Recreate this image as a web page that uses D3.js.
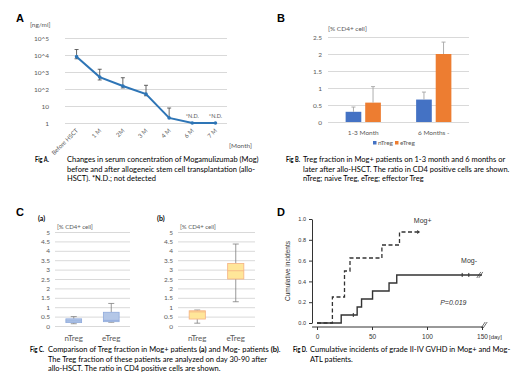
<!DOCTYPE html>
<html>
<head>
<meta charset="utf-8">
<script src="https://cdn.jsdelivr.net/npm/d3@7"></script>
<style>
  body { margin: 0; background: #fff; }
  svg { display: block; }
  text { font-family: Lato, "Open Sans", sans-serif; }
</style>
</head>
<body>
<div id="chart"></div>
<script>
// ---- Panel A: serum Mogamulizumab ----
const monthLabels = ["Before HSCT", "1 M", "2M", "3 M", "4 M", "6 M", "7 M"];
const mogConc = [8000, 500, 150, 50, 2, 1, 1];
const mogHigh = [21000, 1450, 460, 165, 7.6, null, null];
const mogLow = [6000, 340, 115, 40, 2, null, null];
const notDetected = [false, false, false, false, false, true, true];
const logTicks = [1, 10, 100, 1000, 10000, 100000];
const logTickLabels = ["1", "10", "10^2", "10^3", "10^4", "10^5"];

// ---- Panel B: Treg fraction ----
const periods = ["1-3 Month", "6 Months -"];
const tregTypes = ["nTreg", "eTreg"];
const nTregMean = [0.3, 0.66];
const eTregMean = [0.57, 2.0];
const nTregErr = [0.14, 0.22];
const eTregErr = [0.47, 0.35];

// ---- Panel C: box plots [min, q1, median, q3, max] ----
const mogPosNTreg = [0.12, 0.18, 0.27, 0.38, 0.5];
const mogPosETreg = [0.2, 0.23, 0.3, 0.73, 1.2];
const mogNegNTreg = [0.15, 0.37, 0.75, 0.81, 0.85];
const mogNegETreg = [1.29, 2.5, 2.94, 3.33, 4.36];

// ---- Panel D: cumulative incidence of GVHD ----
const mogPosDays = [0, 14, 25, 30, 59, 75, 91];
const mogPosInc = [0, 0.25, 0.5, 0.625, 0.75, 0.875, 0.875];
const mogNegDays = [0, 22, 36.5, 40.5, 50.5, 65.5, 72.5, 150];
const mogNegInc = [0, 0.077, 0.154, 0.231, 0.308, 0.385, 0.462, 0.462];
const mogNegCensorDays = [33, 132, 138];
const mogNegCensorInc = [0.077, 0.462, 0.462];

const svg = d3.select("#chart").append("svg")
    .attr("width", 520)
    .attr("height", 390);

svg.append("rect").attr("width", 520).attr("height", 390).attr("fill", "#fff");

const tickGrey = "#595959";
const gridGrey = "#d9d9d9";

// helper: caption block
function caption(x, xText, y, label, lines) {
    svg.append("text")
        .attr("x", x).attr("y", y)
        .attr("textLength", 14).attr("lengthAdjust", "spacingAndGlyphs")
        .style("font-size", "7px").style("font-weight", "bold")
        .text(label);
    lines.forEach((ln, i) => {
        const t = svg.append("text")
            .attr("x", xText).attr("y", y + i * 9.5)
            .style("font-size", "7.5px");
        ln.forEach(part => {
            t.append("tspan")
                .style("font-weight", part.b ? "bold" : "normal")
                .text(part.t);
        });
    });
}

function panelLetter(x, y, s) {
    svg.append("text").attr("x", x).attr("y", y)
        .style("font-family", "'Liberation Sans', Arial, sans-serif")
        .style("font-size", "11px").style("font-weight", "bold")
        .text(s);
}

// ================= Panel A =================
{
    const x = d3.scaleBand().domain(monthLabels).range([65, 227]);
    const y = d3.scaleLog().domain([1, 1e5]).range([123, 38]);
    const cx = i => x(monthLabels[i]) + x.bandwidth() / 2;

    panelLetter(16, 22, "A");
    svg.append("text").attr("x", 30).attr("y", 27)
        .style("font-size", "6.5px").attr("fill", tickGrey).text("[ng/ml]");

    const gy = svg.append("g").attr("transform", "translate(65,0)")
        .call(d3.axisLeft(y).tickValues(logTicks).tickSize(-(227 - 65)).tickPadding(16)
            .tickFormat((d, i) => logTickLabels[i]));
    gy.select(".domain").remove();
    gy.selectAll(".tick line").attr("stroke", gridGrey);
    gy.selectAll(".tick text").attr("fill", tickGrey).style("font-size", "6.5px")
        .style("font-family", "Lato, sans-serif");

    const gx = svg.append("g").attr("transform", "translate(0,123)")
        .call(d3.axisBottom(x).tickSize(0));
    gx.select(".domain").remove();
    gx.selectAll(".tick text")
        .attr("y", 0).attr("dy", 0)
        .attr("text-anchor", "end")
        .attr("transform", "translate(2,8) rotate(-45)")
        .attr("fill", tickGrey).style("font-size", "6px")
        .style("font-family", "Lato, sans-serif");

    svg.append("text").attr("x", 229).attr("y", 148)
        .style("font-size", "6.5px").attr("fill", tickGrey).text("[Month]");

    // error bars
    mogConc.forEach((v, i) => {
        if (mogHigh[i] == null) return;
        const g = svg.append("g").attr("stroke", "#404040").attr("stroke-width", 0.8);
        g.append("line").attr("x1", cx(i)).attr("x2", cx(i)).attr("y1", y(mogHigh[i])).attr("y2", y(mogLow[i]));
        g.append("line").attr("x1", cx(i) - 2).attr("x2", cx(i) + 2).attr("y1", y(mogHigh[i])).attr("y2", y(mogHigh[i]));
        if (mogLow[i] !== v)
            g.append("line").attr("x1", cx(i) - 2).attr("x2", cx(i) + 2).attr("y1", y(mogLow[i])).attr("y2", y(mogLow[i]));
    });

    svg.append("path")
        .datum(mogConc)
        .attr("fill", "none").attr("stroke", "#2E75B6").attr("stroke-width", 2)
        .attr("d", d3.line().x((d, i) => cx(i)).y(d => y(d)));

    svg.selectAll(".ptA").data(mogConc).enter().append("circle")
        .attr("cx", (d, i) => cx(i)).attr("cy", d => y(d)).attr("r", 1.8)
        .attr("fill", "#2E75B6");

    mogConc.forEach((v, i) => {
        if (!notDetected[i]) return;
        svg.append("text").attr("x", cx(i)).attr("y", y(v) - 5)
            .attr("text-anchor", "middle").attr("fill", tickGrey)
            .style("font-size", "5.5px").text("*N.D.");
    });

    caption(35, 67, 162, "Fig A.", [
        [{ t: "Changes in serum concentration of Mogamulizumab (Mog)" }],
        [{ t: "before and after allogeneic stem cell transplantation (allo-" }],
        [{ t: "HSCT).    *N.D.; not detected" }]
    ]);
}

// ================= Panel B =================
{
    const y = d3.scaleLinear().domain([0, 2.5]).range([122, 37]);
    const x0 = d3.scaleBand().domain(periods).range([328, 469]);
    const x1 = d3.scaleBand().domain(tregTypes).range([0, x0.bandwidth()])
        .paddingInner(0.2).paddingOuter(0.9);
    const color = d3.scaleOrdinal().domain(tregTypes).range(["#4472C4", "#ED7D31"]);

    panelLetter(277, 22, "B");
    svg.append("text").attr("x", 328).attr("y", 31)
        .style("font-size", "6.5px").attr("fill", tickGrey).text("[% CD4+ cell]");

    const gy = svg.append("g").attr("transform", "translate(328,0)")
        .call(d3.axisLeft(y).tickValues(d3.range(0, 2.51, 0.5)).tickSize(-(469 - 328)).tickPadding(6)
            .tickFormat(d3.format("~g")));
    gy.select(".domain").remove();
    gy.selectAll(".tick line").attr("stroke", gridGrey);
    gy.selectAll(".tick text").attr("fill", tickGrey).style("font-size", "6.5px")
        .style("font-family", "Lato, sans-serif");

    const gx = svg.append("g").attr("transform", "translate(0,122)")
        .call(d3.axisBottom(x0).tickSize(0).tickPadding(8));
    gx.select(".domain").remove();
    gx.selectAll(".tick text").attr("fill", tickGrey).style("font-size", "6.5px")
        .style("font-family", "Lato, sans-serif");

    const rows = periods.map((p, i) => ({
        period: p,
        vals: [
            { key: "nTreg", v: nTregMean[i], e: nTregErr[i] },
            { key: "eTreg", v: eTregMean[i], e: eTregErr[i] }
        ]
    }));

    const grp = svg.selectAll(".grpB").data(rows).enter().append("g")
        .attr("transform", d => `translate(${x0(d.period)},0)`);

    grp.selectAll("rect").data(d => d.vals).enter().append("rect")
        .attr("x", d => x1(d.key)).attr("width", x1.bandwidth())
        .attr("y", d => y(d.v)).attr("height", d => y(0) - y(d.v))
        .attr("fill", d => color(d.key));

    grp.selectAll(".eb").data(d => d.vals).enter().append("path")
        .attr("fill", "none").attr("stroke", "#a5a5a5").attr("stroke-width", 0.9)
        .attr("d", d => {
            const c = x1(d.key) + x1.bandwidth() / 2;
            return `M${c},${y(d.v)}V${y(d.v + d.e)}M${c - 2},${y(d.v + d.e)}H${c + 2}`;
        });

    // legend
    const leg = svg.append("g").attr("transform", "translate(373,145)");
    tregTypes.forEach((k, i) => {
        leg.append("rect").attr("x", i * 22).attr("y", -4).attr("width", 3.5).attr("height", 3.5)
            .attr("fill", color(k));
        leg.append("text").attr("x", i * 22 + 5).attr("y", 0)
            .style("font-size", "6.5px").attr("fill", tickGrey).text(k);
    });

    caption(286, 303, 162, "Fig B.", [
        [{ t: "Treg fraction in Mog+ patients on 1-3 month and 6 months or" }],
        [{ t: "later after allo-HSCT. The ratio in CD4 positive  cells are shown." }],
        [{ t: "nTreg; naive Treg, eTreg; effector Treg" }]
    ]);
}

// ================= Panel C =================
{
    const y = d3.scaleLinear().domain([0, 5]).range([326, 232]);
    panelLetter(16, 216, "C");

    function boxPanel(left, right, tag, tagX, stats, fill, stroke, medStroke) {
        const x = d3.scaleBand().domain(tregTypes).range([left, right]);
        const bw = x.bandwidth() * 0.42;

        svg.append("text").attr("x", tagX).attr("y", 221)
            .style("font-size", "7px").style("font-weight", "bold").text(tag);
        svg.append("text").attr("x", left + 2).attr("y", 229)
            .style("font-size", "6px").attr("fill", tickGrey).text("[% CD4+ cell]");

        const gy = svg.append("g").attr("transform", `translate(${left},0)`)
            .call(d3.axisLeft(y).tickValues(d3.range(0, 5.01, 0.5)).tickSize(-(right - left)).tickPadding(5)
                .tickFormat(d3.format("~g")));
        gy.select(".domain").remove();
        gy.selectAll(".tick line").attr("stroke", gridGrey);
        gy.selectAll(".tick text").attr("fill", tickGrey).style("font-size", "6.5px")
            .style("font-family", "Lato, sans-serif");

        const gx = svg.append("g").attr("transform", "translate(0,326)")
            .call(d3.axisBottom(x).tickSize(0).tickPadding(9));
        gx.select(".domain").remove();
        gx.selectAll(".tick text").attr("fill", tickGrey).style("font-size", "8px")
            .style("font-family", "Lato, sans-serif");

        tregTypes.forEach((k, i) => {
            const s = stats[i];
            const c = x(k) + x.bandwidth() / 2;
            const g = svg.append("g");
            g.append("path").attr("fill", "none").attr("stroke", "#7f7f7f").attr("stroke-width", 0.8)
                .attr("d", `M${c},${y(s[4])}V${y(s[3])}M${c},${y(s[1])}V${y(s[0])}` +
                    `M${c - 3},${y(s[4])}H${c + 3}M${c - 3},${y(s[0])}H${c + 3}`);
            g.append("rect").attr("x", c - bw / 2).attr("width", bw)
                .attr("y", y(s[3])).attr("height", y(s[1]) - y(s[3]))
                .attr("fill", fill).attr("stroke", stroke).attr("stroke-width", 0.8);
            g.append("line").attr("x1", c - bw / 2).attr("x2", c + bw / 2)
                .attr("y1", y(s[2])).attr("y2", y(s[2]))
                .attr("stroke", medStroke).attr("stroke-width", 0.8);
        });
    }

    boxPanel(55, 130, "(a)", 38, [mogPosNTreg, mogPosETreg], "#b4c7e7", "#8faadc", "#8faadc");
    boxPanel(178, 255, "(b)", 157, [mogNegNTreg, mogNegETreg], "#ffe699", "#f4b183", "#f4b183");

    caption(30, 48, 352, "Fig C.", [
        [{ t: "Comparison of Treg fraction in Mog+ patients " }, { t: "(a)", b: true },
            { t: " and Mog- patients " }, { t: "(b)", b: true }, { t: "." }],
        [{ t: "The Treg fraction of these patients  are analyzed on day 30-90 after" }],
        [{ t: "allo-HSCT. The ratio in CD4 positive  cells are shown." }]
    ]);
}

// ================= Panel D =================
{
    const x = d3.scaleLinear().domain([0, 150]).range([317, 482]);
    const y = d3.scaleLinear().domain([0, 1]).range([323, 219]);
    const arial = "'Liberation Sans', Arial, sans-serif";

    panelLetter(277, 216, "D");

    const gy = svg.append("g").attr("transform", "translate(312,0)")
        .call(d3.axisLeft(y).ticks(5).tickFormat(d3.format(".1f")).tickSize(3).tickSizeOuter(0).tickPadding(3));
    gy.selectAll("path, line").attr("stroke", "#333");
    gy.selectAll(".tick text").attr("fill", "#333").style("font-size", "5.5px").style("font-family", arial);

    const gx = svg.append("g").attr("transform", "translate(0,327)")
        .call(d3.axisBottom(x).tickValues([0, 50, 100, 150]).tickSize(3).tickSizeOuter(0).tickPadding(4));
    gx.select(".domain").attr("d", `M${x(-4.5)},0H${x(151)}`);
    gx.selectAll("path, line").attr("stroke", "#333");
    gx.selectAll(".tick text").attr("fill", "#333").style("font-size", "6.5px").style("font-family", arial);

    svg.append("text").attr("x", 489).attr("y", 339)
        .style("font-size", "6px").style("font-family", arial).attr("fill", "#333").text("[day]");

    svg.append("text")
        .attr("transform", `translate(290,${(y(0) + y(1)) / 2}) rotate(-90)`)
        .attr("text-anchor", "middle")
        .style("font-size", "6.5px").style("font-family", arial).attr("fill", "#333")
        .text("Cumulative incidents");

    const step = d3.line().curve(d3.curveStepAfter)
        .x(d => x(d[0])).y(d => y(d[1]));

    svg.append("path")
        .datum(mogNegDays.map((d, i) => [d, mogNegInc[i]]))
        .attr("fill", "none").attr("stroke", "#333").attr("stroke-width", 1.4)
        .attr("d", step);

    svg.append("path")
        .datum(mogPosDays.map((d, i) => [d, mogPosInc[i]]))
        .attr("fill", "none").attr("stroke", "#333").attr("stroke-width", 1.3)
        .attr("stroke-dasharray", "4,2.5")
        .attr("d", step);

    // censor marks
    mogNegCensorDays.forEach((d, i) => {
        svg.append("line").attr("x1", x(d)).attr("x2", x(d))
            .attr("y1", y(mogNegCensorInc[i]) - 2).attr("y2", y(mogNegCensorInc[i]) + 2)
            .attr("stroke", "#333").attr("stroke-width", 1);
    });
    const lastPos = mogPosDays.length - 1;
    svg.append("path").attr("fill", "#333")
        .attr("d", `M${x(mogPosDays[lastPos])},${y(mogPosInc[lastPos]) - 2}l3,2l-3,2z`);

    // axis breaks
    const brk = (bx, by) => svg.append("path").attr("fill", "none").attr("stroke", "#333").attr("stroke-width", 0.7)
        .attr("d", `M${bx - 3},${by + 3}l4,-6M${bx - 1},${by + 3}l4,-6`);
    brk(x(148), y(mogNegInc[mogNegInc.length - 1]));
    brk(x(152), 325);

    svg.append("text").attr("x", x(88)).attr("y", y(0.96))
        .style("font-size", "7px").style("font-family", arial).attr("fill", "#333").text("Mog+");
    svg.append("text").attr("x", x(131)).attr("y", y(0.58))
        .style("font-size", "7px").style("font-family", arial).attr("fill", "#333").text("Mog-");
    svg.append("text").attr("x", x(112)).attr("y", y(0.17))
        .style("font-size", "7px").style("font-style", "italic").style("font-family", arial)
        .attr("fill", "#333").text("P=0.019");

    caption(293, 310, 352, "Fig D.", [
        [{ t: "Cumulative incidents of grade II-IV GVHD in Mog+ and Mog-" }],
        [{ t: "ATL patients." }]
    ]);
}
</script>
</body>
</html>
